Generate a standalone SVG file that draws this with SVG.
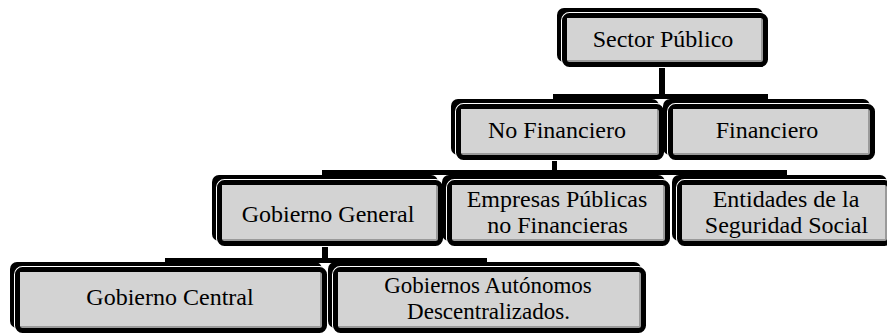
<svg xmlns="http://www.w3.org/2000/svg" width="887" height="333" viewBox="0 0 887 333">
<style>
.sh{fill:#000}
.wb{fill:none;stroke:#fff;stroke-width:7}
.bd{fill:#9a9a9a;stroke:#000;stroke-width:5}
.fc{fill:#d3d3d3}
.c{stroke:#000;fill:none}
text{font-size:24px;fill:#000;text-anchor:middle}
.s{font-size:23px}
</style>
<rect width="887" height="333" fill="#fff"/>
<g id="connectors">
<line class="c" x1="662" y1="66" x2="662" y2="97" stroke-width="6"/>
<line class="c" x1="553" y1="96.5" x2="768" y2="96.5" stroke-width="5"/>
<line class="c" x1="554.5" y1="158" x2="554.5" y2="173" stroke-width="5"/>
<line class="c" x1="322" y1="172.5" x2="787" y2="172.5" stroke-width="5"/>
<line class="c" x1="325" y1="244" x2="325" y2="261" stroke-width="6"/>
<line class="c" x1="165" y1="260.5" x2="487" y2="260.5" stroke-width="5"/>
</g>
<g id="sector-publico">
<rect class="sh" x="557" y="8" width="206" height="54" rx="7"/>
<rect class="wb" x="564.5" y="15.5" width="201" height="49" rx="5"/>
<rect class="bd" x="564.5" y="15.5" width="201" height="49" rx="5"/>
<rect class="fc" x="567" y="18" width="194" height="42"/>
<text font-family="Liberation Serif" x="663" y="47">Sector Público</text>
</g>
<g id="no-financiero">
<rect class="sh" x="451" y="99" width="208" height="56" rx="7"/>
<rect class="wb" x="458.5" y="106.5" width="203" height="51" rx="5"/>
<rect class="bd" x="458.5" y="106.5" width="203" height="51" rx="5"/>
<rect class="fc" x="461" y="109" width="196" height="44"/>
<text font-family="Times New Roman" x="557" y="138">No Financiero</text>
</g>
<g id="financiero">
<rect class="sh" x="663" y="99" width="207" height="56" rx="7"/>
<rect class="wb" x="670.5" y="106.5" width="202" height="51" rx="5"/>
<rect class="bd" x="670.5" y="106.5" width="202" height="51" rx="5"/>
<rect class="fc" x="673" y="109" width="195" height="44"/>
<text font-family="Times New Roman" x="767" y="138">Financiero</text>
</g>
<g id="gobierno-general">
<rect class="sh" x="212" y="175" width="226" height="66" rx="7"/>
<rect class="wb" x="219.5" y="182.5" width="221" height="61" rx="5"/>
<rect class="bd" x="219.5" y="182.5" width="221" height="61" rx="5"/>
<rect class="fc" x="222" y="185" width="214" height="54"/>
<text font-family="Liberation Serif" x="328" y="222">Gobierno General</text>
</g>
<g id="empresas-publicas">
<rect class="sh" x="442" y="175" width="223" height="66" rx="7"/>
<rect class="wb" x="449.5" y="182.5" width="218" height="61" rx="5"/>
<rect class="bd" x="449.5" y="182.5" width="218" height="61" rx="5"/>
<rect class="fc" x="452" y="185" width="211" height="54"/>
<text font-family="Liberation Serif" x="557" y="207">Empresas Públicas</text>
<text font-family="Times New Roman" x="557.5" y="233">no Financieras</text>
</g>
<g id="entidades-seguridad-social">
<rect class="sh" x="672" y="175" width="215" height="66" rx="7"/>
<rect class="wb" x="679.5" y="182.5" width="210" height="61" rx="5"/>
<rect class="bd" x="679.5" y="182.5" width="210" height="61" rx="5"/>
<rect class="fc" x="682" y="185" width="203" height="54"/>
<text font-family="Liberation Serif, serif" x="786" y="207">Entidades de la</text>
<text font-family="Times New Roman" x="786.5" y="233">Seguridad Social</text>
</g>
<g id="gobierno-central">
<rect class="sh" x="10" y="262" width="312" height="66" rx="7"/>
<rect class="wb" x="17.5" y="269.5" width="307" height="61" rx="5"/>
<rect class="bd" x="17.5" y="269.5" width="307" height="61" rx="5"/>
<rect class="fc" x="20" y="272" width="300" height="54"/>
<text font-family="Liberation Serif" x="170" y="305">Gobierno Central</text>
</g>
<g id="gobiernos-autonomos">
<rect class="sh" x="328" y="262" width="313" height="66" rx="7"/>
<rect class="wb" x="335.5" y="269.5" width="308" height="61" rx="5"/>
<rect class="bd" x="335.5" y="269.5" width="308" height="61" rx="5"/>
<rect class="fc" x="338" y="272" width="301" height="54"/>
<text class="s" font-family="Times New Roman" x="488" y="293">Gobiernos Autónomos</text>
<text class="s" font-family="Liberation Serif" x="488.5" y="319">Descentralizados.</text>
</g>
</svg>
